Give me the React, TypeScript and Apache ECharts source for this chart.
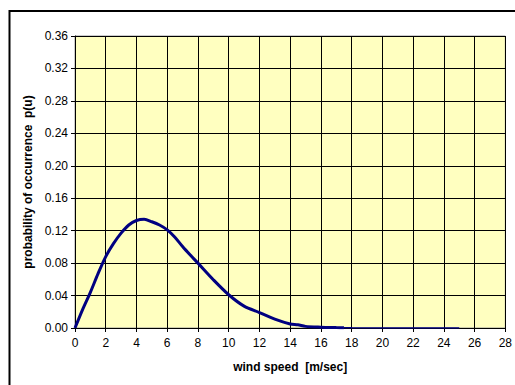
import React, { useEffect, useRef } from "react";
import * as echarts from "echarts";

const speeds = [0, 0.5, 1, 1.5, 2, 2.5, 3, 3.5, 4, 4.5, 5, 5.5, 6, 6.5, 7, 7.5, 8, 9, 10, 11, 12, 13, 14, 14.5, 15, 16, 17, 17.5];
const probs = [0, 0.023, 0.044, 0.067, 0.088, 0.104, 0.117, 0.127, 0.1325, 0.134, 0.131, 0.127, 0.121, 0.112, 0.1005, 0.09, 0.08, 0.0595, 0.041, 0.027, 0.019, 0.011, 0.005, 0.004, 0.002, 0.001, 0.0005, 0.0003];
const tailSpeeds = [17.5, 18, 20, 22, 25];
const tailProbs = [0.0003, 0.0002, 0.0001, 0.00005, 0];

const xTitle = "wind speed  [m/sec]";
const yTitle = "probability of occurrence  p(u)";

export default function App() {
  const ref = useRef<HTMLDivElement>(null);
  useEffect(() => {
    if (!ref.current) return;
    const chart = echarts.init(ref.current, null, { renderer: "svg" });
    const font = "Liberation Sans, Arial, sans-serif";
    chart.setOption({
      animation: false,
      backgroundColor: "#ffffff",
      grid: {
        left: 75,
        top: 36,
        right: 6,
        bottom: 57,
        show: true,
        backgroundColor: "#FFFFC0",
        borderColor: "#999999",
        borderWidth: 1,
      },
      graphic: [
        {
          type: "rect",
          shape: { x: 9.5, y: 11, width: 520, height: 390 },
          style: { fill: "none", stroke: "#000", lineWidth: 2 },
          z: 100,
          silent: true,
        },
      ],
      xAxis: {
        type: "value",
        min: 0,
        max: 28,
        interval: 2,
        name: xTitle,
        nameLocation: "middle",
        nameGap: 33,
        nameTextStyle: { fontFamily: font, fontSize: 12, fontWeight: "bold", color: "#000" },
        axisLine: { show: true, lineStyle: { color: "#000", width: 1 } },
        axisTick: { show: true, length: 4, lineStyle: { color: "#000" } },
        axisLabel: { fontFamily: font, fontSize: 12, color: "#000", margin: 9 },
        splitLine: { show: true, lineStyle: { color: "#000", width: 1 } },
      },
      yAxis: {
        type: "value",
        min: 0,
        max: 0.36,
        interval: 0.04,
        name: yTitle,
        nameLocation: "middle",
        nameGap: 34,
        nameTextStyle: { fontFamily: font, fontSize: 12, fontWeight: "bold", color: "#000" },
        axisLine: { show: true, lineStyle: { color: "#000", width: 1 } },
        axisTick: { show: true, length: 4, lineStyle: { color: "#000" } },
        axisLabel: {
          fontFamily: font,
          fontSize: 12,
          color: "#000",
          margin: 7,
          formatter: (v: number) => v.toFixed(2),
        },
        splitLine: { show: true, lineStyle: { color: "#000", width: 1 } },
      },
      series: [
        {
          type: "line",
          data: speeds.map((s, i) => [s, probs[i]]),
          showSymbol: false,
          smooth: 0.3,
          lineStyle: { color: "#000080", width: 3 },
          z: 5,
        },
        {
          type: "line",
          data: tailSpeeds.map((s, i) => [s, tailProbs[i]]),
          showSymbol: false,
          lineStyle: { color: "#000080", width: 1.5 },
          z: 5,
        },
      ],
    });
    return () => chart.dispose();
  }, []);
  return (
    <div
      ref={ref}
      style={{ position: "fixed", left: 0, top: 0, width: 515, height: 385 }}
    />
  );
}
